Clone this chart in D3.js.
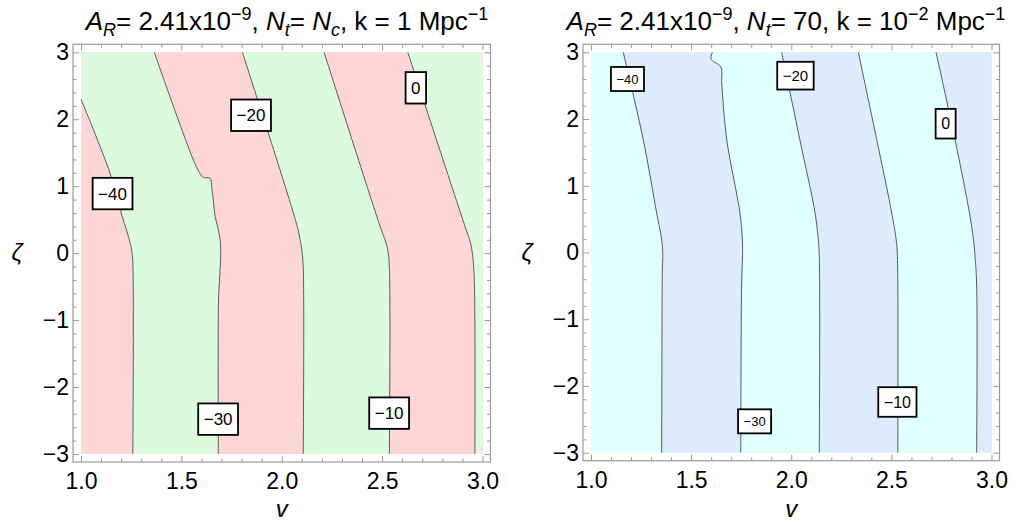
<!DOCTYPE html>
<html>
<head>
<meta charset="utf-8">
<script src="https://cdn.jsdelivr.net/npm/d3@7"></script>
<style>
  body { margin: 0; background: #fff; }
  svg { font-family: "Liberation Sans", Arial, sans-serif; }
</style>
</head>
<body>
<div id="chart"></div>
<script>
// contour levels and tick values
const levels = [-40, -30, -20, -10, 0]
const vTicks = [1.0, 1.5, 2.0, 2.5, 3.0]
const zetaTicks = [-3, -2, -1, 0, 1, 2, 3]

// contour lines, [v, zeta], top to bottom  (left panel: Nt = Nc, k = 1)
const leftLines = [
  [[1.0, 2.30], [1.145, 1.19], [1.194, 0.66], [1.236, 0.25], [1.252, 0.05], [1.258, -0.15], [1.258, -3]],
  [[1.365, 3], [1.56, 1.39], [1.593, 1.19], [1.609, 1.13], [1.643, 1.12], [1.651, 0.99], [1.659, 0.79],
   [1.668, 0.55], [1.684, 0.35], [1.693, 0.2], [1.696, 0], [1.69, -0.4], [1.685, -0.7], [1.684, -3]],
  [[1.804, 3], [2.058, 0.6], [2.085, 0.3], [2.1, 0.05], [2.107, -0.2], [2.107, -3]],
  [[2.211, 3], [2.49, 0.4], [2.514, 0.2], [2.528, 0.05], [2.536, -0.2], [2.536, -3]],
  [[2.628, 3], [2.913, 0.4], [2.938, 0.18], [2.947, 0.05], [2.958, -0.3], [2.962, -3]]
]

// right panel: Nt = 70, k = 1e-2
const rightLines = [
  [[1.161, 3], [1.261, 1.69], [1.328, 0.59], [1.353, 0.19], [1.358, 0], [1.356, -0.3], [1.353, -3]],
  [[1.606, 3], [1.599, 2.90], [1.619, 2.85], [1.649, 2.78], [1.653, 2.53], [1.678, 1.69], [1.744, 0.59],
   [1.756, 0.19], [1.757, 0], [1.752, -0.5], [1.748, -3]],
  [[1.952, 3], [2.043, 1.69], [2.119, 0.59], [2.135, 0.19], [2.14, -0.06], [2.14, -3]],
  [[2.335, 3], [2.427, 1.69], [2.502, 0.59], [2.524, 0.19], [2.53, -0.06], [2.532, -3]],
  [[2.723, 3], [2.818, 1.69], [2.89, 0.59], [2.91, 0.19], [2.918, -0.06], [2.926, -0.5], [2.926, -3]]
]

// label anchors [v, zeta], same order as levels
const leftLabelPos = [[1.157, 0.89], [1.683, -2.48], [1.847, 2.06], [2.535, -2.39], [2.668, 2.47]]
const rightLabelPos = [[1.182, 2.60], [1.817, -2.53], [2.021, 2.65], [2.53, -2.24], [2.771, 1.93]]

const leftTitle = [["A", "i"], ["R", "sub"], ["= 2.41x10", "n"], ["−9", "sup"], [", ", "n"], ["N", "i"], ["t", "sub"],
  ["= ", "n"], ["N", "i"], ["c", "sub"], [", k = 1 Mpc", "n"], ["−1", "sup"]]
const rightTitle = [["A", "i"], ["R", "sub"], ["= 2.41x10", "n"], ["−9", "sup"], [", ", "n"], ["N", "i"], ["t", "sub"],
  ["= 70, k = 10", "n"], ["−2", "sup"], [" Mpc", "n"], ["−1", "sup"]]

const width = 1017
const height = 527

const svg = d3.select("#chart").append("svg")
  .attr("width", width)
  .attr("height", height)

const panels = [
  { lines: leftLines, labels: leftLabelPos, title: leftTitle, titleX: 287,
    px: [73, 490.5], py: [462, 44.3], colors: ["#ffd6d6", "#dcfbdc"], labelSize: [17, 17, 17, 17, 17], zx: 17 },
  { lines: rightLines, labels: rightLabelPos, title: rightTitle, titleX: 786,
    px: [583, 999.5], py: [460.7, 44.3], colors: ["#e0ffff", "#dcebfd"], labelSize: [13, 13, 15, 16, 16], zx: 527 }
]

const fmtMinus = (s) => String(s).replace("-", "−")

panels.forEach((p) => {
  const x = d3.scaleLinear().domain([0.96, 3.04]).range(p.px)
  const y = d3.scaleLinear().domain([-3.12, 3.12]).range(p.py)
  const g = svg.append("g")

  // background = first band
  g.append("rect")
    .attr("x", x(1)).attr("y", y(3))
    .attr("width", x(3) - x(1)).attr("height", y(-3) - y(3))
    .attr("fill", p.colors[0])

  const line = d3.line().x((d) => x(d[0])).y((d) => y(d[1])).curve(d3.curveCatmullRom.alpha(0.5))

  // each band is the region right of its contour
  p.lines.forEach((pts, i) => {
    let path = line(pts) + `L${x(3)},${y(-3)}L${x(3)},${y(3)}`
    if (pts[0][1] < 3) path += `L${x(1)},${y(3)}`
    g.append("path").attr("d", path + "Z").attr("fill", p.colors[(i + 1) % 2])
  })

  p.lines.forEach((pts) => {
    g.append("path").attr("d", line(pts))
      .attr("fill", "none").attr("stroke", "#5a5a5a").attr("stroke-width", 1)
  })

  // frame with ticks on all four sides
  const frame = g.append("g").attr("class", "frame")
  const minorV = d3.range(10, 31).map((d) => d / 10).filter((d) => !vTicks.includes(d))
  const minorZ = d3.range(-15, 16).map((d) => d / 5).filter((d) => !zetaTicks.includes(d))
  const makeAxis = (k) => (k === 0 ? d3.axisBottom(x) : k === 1 ? d3.axisTop(x) : k === 2 ? d3.axisLeft(y) : d3.axisRight(y))
  const sides = [[y.range()[0], 0], [y.range()[1], 0], [0, x.range()[0]], [0, x.range()[1]]]
  sides.forEach(([ty, tx], k) => {
    const isX = k < 2
    const showLabels = k === 0 || k === 2
    frame.append("g")
      .attr("transform", `translate(${tx},${ty})`)
      .call(makeAxis(k).tickValues(isX ? vTicks : zetaTicks).tickSizeInner(-6).tickSizeOuter(0)
        .tickPadding(isX ? 10.5 : 4)
        .tickFormat(showLabels ? (d) => (isX ? d3.format(".1f")(d) : fmtMinus(d)) : ""))
      .call((s) => s.select(".domain").remove())
      .call((s) => s.selectAll("line").attr("stroke", "#999"))
      .call((s) => s.selectAll("text").attr("font-size", 23).attr("fill", "#000"))
    frame.append("g")
      .attr("transform", `translate(${tx},${ty})`)
      .call(makeAxis(k).tickValues(isX ? minorV : minorZ).tickSizeInner(-3.5).tickSizeOuter(0).tickFormat(""))
      .call((s) => s.select(".domain").remove())
      .call((s) => s.selectAll("line").attr("stroke", "#999"))
  })
  frame.append("rect")
    .attr("x", x.range()[0]).attr("y", y.range()[1])
    .attr("width", x.range()[1] - x.range()[0]).attr("height", y.range()[0] - y.range()[1])
    .attr("fill", "none").attr("stroke", "#999").attr("stroke-width", 1.2)

  // contour labels
  p.labels.forEach((pos, i) => {
    const fs = p.labelSize[i]
    const lg = g.append("g").attr("transform", `translate(${x(pos[0])},${y(pos[1])})`)
    const box = lg.append("rect")
    const t = lg.append("text")
      .attr("text-anchor", "middle").attr("dy", "0.36em")
      .attr("font-size", fs).text(fmtMinus(levels[i]))
    const bb = t.node().getBBox()
    const w = bb.width + 11
    const h = fs * 1.85
    box.attr("x", -w / 2).attr("y", -h / 2).attr("width", w).attr("height", h)
      .attr("fill", "#fff").attr("stroke", "#000").attr("stroke-width", 1.8)
  })

  // title
  const title = g.append("text").attr("x", p.titleX).attr("y", 29.5)
    .attr("text-anchor", "middle").attr("font-size", 26)
  let base = 0
  p.title.forEach(([s, kind]) => {
    const shift = kind === "sub" ? 6 : kind === "sup" ? -10 : 0
    title.append("tspan")
      .attr("dy", shift - base)
      .attr("font-size", kind === "sub" || kind === "sup" ? 18 : 26)
      .attr("font-style", kind === "i" || kind === "sub" ? "italic" : "normal")
      .text(s)
    base = shift
  })

  // axis labels
  g.append("text").attr("x", (x(1) + x(3)) / 2).attr("y", 517)
    .attr("text-anchor", "middle").attr("font-size", 24).attr("font-style", "italic").text("v")
  g.append("text").attr("x", p.zx).attr("y", (y(-3) + y(3)) / 2 + 8)
    .attr("text-anchor", "middle").attr("font-size", 24).attr("font-style", "italic").text("ζ")
})
</script>
</body>
</html>
